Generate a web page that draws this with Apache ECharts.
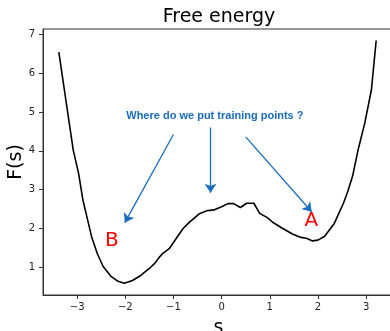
<!DOCTYPE html>
<html>
<head>
<meta charset="utf-8">
<script src="https://cdn.jsdelivr.net/npm/echarts@6/dist/echarts.min.js"></script>
<style>html,body{margin:0;padding:0;background:#fff}#c{width:390px;height:331px}</style>
</head>
<body>
<div id="c"></div>
<script>
var sValues = [-3.38, -3.23, -3.08, -2.97, -2.88, -2.70, -2.58, -2.46, -2.29, -2.15, -2.02, -1.85, -1.68, -1.50, -1.39, -1.30, -1.22, -1.08, -0.94, -0.80, -0.66, -0.46, -0.30, -0.15, 0.0, 0.13, 0.25, 0.39, 0.52, 0.67, 0.79, 0.95, 1.06, 1.27, 1.48, 1.65, 1.76, 1.89, 2.0, 2.14, 2.34, 2.53, 2.62, 2.72, 2.83, 2.97, 3.11, 3.21];
var fValues = [6.54, 5.27, 4.01, 3.42, 2.73, 1.79, 1.35, 1.02, 0.76, 0.64, 0.59, 0.66, 0.79, 0.97, 1.10, 1.25, 1.36, 1.49, 1.75, 2.00, 2.17, 2.38, 2.46, 2.48, 2.56, 2.64, 2.64, 2.54, 2.65, 2.65, 2.39, 2.28, 2.16, 2.00, 1.85, 1.77, 1.75, 1.68, 1.70, 1.80, 2.13, 2.65, 2.95, 3.35, 4.00, 4.70, 5.56, 6.84];
var xTicks = [-3, -2, -1, 0, 1, 2, 3];
var yTicks = [1, 2, 3, 4, 5, 6, 7];
var questionText = 'Where do we put training points ?';
var questionAt = [-0.14, 4.91];
var arrowFrom = [[-1.0, 4.42], [-0.23, 4.60], [0.50, 4.36]];
var arrowTo = [[-2.01, 2.15], [-0.23, 2.92], [1.87, 2.43]];
var letterLabels = ['B', 'A'];
var letterAt = [[-2.28, 1.69], [1.863, 2.205]];

var data = sValues.map(function (s, i) { return [s, fValues[i]]; });
var blue = '#1a6dbd';
var minus = function (v) { return String(v).replace('-', '\u2212'); };

var markPts = [{
  coord: questionAt,
  label: { show: true, position: 'inside', formatter: questionText, color: blue, fontFamily: 'Liberation Sans', fontWeight: 'bold', fontSize: 11 }
}];
letterLabels.forEach(function (t, i) {
  markPts.push({
    coord: letterAt[i],
    label: { show: true, position: 'inside', formatter: t, color: '#ff0000', fontFamily: 'DejaVu Sans', fontSize: 20 }
  });
});

var chart = echarts.init(document.getElementById('c'), null, { renderer: 'canvas' });
chart.setOption({
  animation: false,
  backgroundColor: '#fff',
  title: {
    text: 'Free energy', left: 214, top: 3, textAlign: 'center',
    textStyle: { fontFamily: 'DejaVu Sans', fontSize: 19, fontWeight: 'normal', color: '#000' }
  },
  grid: { left: 43, top: 29, bottom: 36, right: -4, containLabel: false, outerBoundsMode: 'none', show: true, borderColor: '#333', borderWidth: 1, backgroundColor: 'transparent' },
  xAxis: {
    type: 'value', min: -3.709, max: 3.58,
    name: 's', nameLocation: 'middle', nameGap: 24, nameMoveOverlap: false,
    nameTextStyle: { fontFamily: 'DejaVu Sans', fontSize: 19, color: '#000' },
    axisLine: { show: true, onZero: false, lineStyle: { color: '#333', width: 1 } },
    axisTick: { show: true, length: 4, customValues: xTicks, lineStyle: { color: '#333' } },
    axisLabel: { customValues: xTicks, formatter: minus, fontFamily: 'DejaVu Sans', fontSize: 10, color: '#222', margin: 7 },
    splitLine: { show: false }
  },
  yAxis: {
    type: 'value', min: 0.287, max: 7.137,
    name: 'F(s)', nameLocation: 'middle', nameGap: 17, nameRotate: 90, nameMoveOverlap: false,
    nameTextStyle: { fontFamily: 'DejaVu Sans', fontSize: 19, color: '#000' },
    axisLine: { show: true, onZero: false, lineStyle: { color: '#333', width: 1 } },
    axisTick: { show: true, length: 4, customValues: yTicks, lineStyle: { color: '#333' } },
    axisLabel: { customValues: yTicks, formatter: minus, fontFamily: 'DejaVu Sans', fontSize: 10, color: '#222', margin: 8 },
    splitLine: { show: false }
  },
  series: [{
    type: 'line', data: data, showSymbol: false, smooth: false, silent: true,
    lineStyle: { color: '#000', width: 1.6 },
    markLine: {
      silent: true, symbol: ['none', 'arrow'], symbolSize: 9,
      label: { show: false },
      lineStyle: { color: blue, width: 1.3, type: 'solid' },
      data: arrowFrom.map(function (f, i) { return [{ coord: f }, { coord: arrowTo[i] }]; })
    },
    markPoint: {
      silent: true, symbol: 'circle', symbolSize: 1,
      itemStyle: { color: 'rgba(0,0,0,0)' },
      data: markPts
    }
  }]
});
</script>
</body>
</html>
